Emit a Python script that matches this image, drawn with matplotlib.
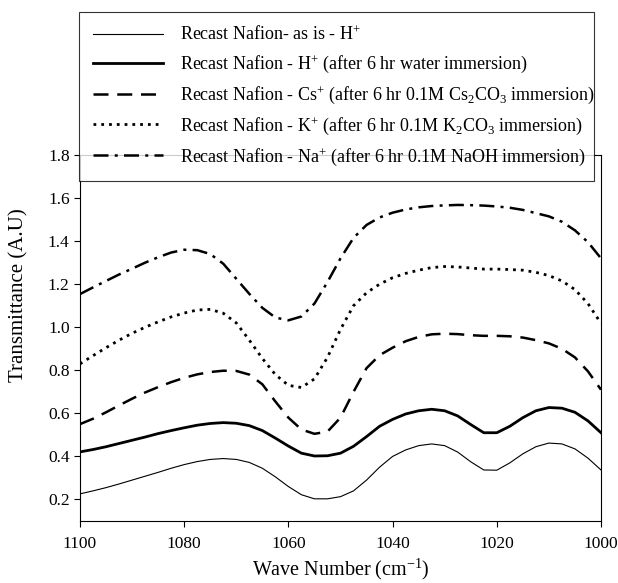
import matplotlib
matplotlib.use("Agg")
import matplotlib.pyplot as plt

plt.rcParams['font.family'] = ['Liberation Serif', 'DejaVu Serif']
plt.rcParams['mathtext.fontset'] = 'custom'
plt.rcParams['mathtext.rm'] = 'Liberation Serif'
plt.rcParams['mathtext.it'] = 'Liberation Serif:italic'
plt.rcParams['mathtext.bf'] = 'Liberation Serif:bold'

wavenumber = [1100, 1097.5, 1095, 1092.5, 1090, 1087.5, 1085, 1082.5, 1080, 1077.5,
              1075, 1072.5, 1070, 1067.5, 1065, 1062.5, 1060, 1057.5, 1055, 1052.5,
              1050, 1047.5, 1045, 1042.5, 1040, 1037.5, 1035, 1032.5, 1030, 1027.5,
              1025, 1022.5, 1020, 1017.5, 1015, 1012.5, 1010, 1007.5, 1005, 1002.5, 1000]

as_is = [0.226, 0.24, 0.255, 0.272, 0.29, 0.308, 0.326, 0.345, 0.362, 0.376,
         0.386, 0.39, 0.386, 0.372, 0.345, 0.305, 0.26, 0.222, 0.203, 0.203,
         0.213, 0.24, 0.29, 0.35, 0.40, 0.43, 0.45, 0.458, 0.45, 0.42,
         0.375, 0.337, 0.336, 0.37, 0.412, 0.445, 0.462, 0.458, 0.435, 0.392, 0.337]

h_water = [0.421, 0.432, 0.445, 0.46, 0.475, 0.49, 0.506, 0.52, 0.533, 0.545,
           0.553, 0.557, 0.554, 0.543, 0.52, 0.485, 0.448, 0.415, 0.402, 0.403,
           0.415, 0.447, 0.492, 0.54, 0.572, 0.597, 0.612, 0.619, 0.612, 0.588,
           0.548, 0.51, 0.51, 0.54, 0.58, 0.612, 0.627, 0.624, 0.605, 0.565, 0.51]

cs = [0.55, 0.575, 0.605, 0.637, 0.668, 0.697, 0.722, 0.745, 0.765, 0.781,
      0.792, 0.798, 0.797, 0.78, 0.735, 0.655, 0.58, 0.525, 0.505, 0.515,
      0.58, 0.7, 0.81, 0.87, 0.905, 0.935, 0.955, 0.967, 0.97, 0.968,
      0.963, 0.96, 0.96, 0.958, 0.952, 0.94, 0.925, 0.9, 0.86, 0.795, 0.71]

k = [0.83, 0.868, 0.905, 0.94, 0.972, 1.0, 1.025, 1.048, 1.066, 1.08,
     1.083, 1.065, 1.02, 0.94, 0.855, 0.78, 0.73, 0.72, 0.76, 0.86,
     0.99, 1.1, 1.16, 1.2, 1.23, 1.25, 1.265, 1.277, 1.282, 1.28,
     1.275, 1.27, 1.27, 1.268, 1.265, 1.255, 1.24, 1.215, 1.175, 1.11, 1.018]

na = [1.154, 1.185, 1.215, 1.245, 1.272, 1.3, 1.325, 1.347, 1.36, 1.358,
      1.34, 1.295, 1.225, 1.155, 1.09, 1.045, 1.032, 1.05, 1.11, 1.21,
      1.32, 1.415, 1.475, 1.51, 1.532, 1.547, 1.557, 1.563, 1.566, 1.568,
      1.567, 1.565, 1.561, 1.555, 1.545, 1.53, 1.515, 1.49, 1.45, 1.395, 1.32]

labels = [
    r"Recast Nafion- as is - H$^{+}$",
    r"Recast Nafion - H$^{+}$ (after 6 hr water immersion)",
    r"Recast Nafion - Cs$^{+}$ (after 6 hr 0.1M Cs$_{2}$CO$_{3}$ immersion)",
    r"Recast Nafion - K$^{+}$ (after 6 hr 0.1M K$_{2}$CO$_{3}$ immersion)",
    r"Recast Nafion - Na$^{+}$ (after 6 hr 0.1M NaOH immersion)",
]

W, H = 618, 583
fig = plt.figure(figsize=(W / 100, H / 100), dpi=100)
ax = fig.add_axes([80 / W, 1 - 521 / H, (601 - 80) / W, (521 - 155) / H])

l1, = ax.plot(wavenumber, as_is, color='black', lw=0.8, linestyle='-')
l2, = ax.plot(wavenumber, h_water, color='black', lw=2.0, linestyle='-')
l3, = ax.plot(wavenumber, cs, color='black', lw=1.8, linestyle=(0, (6, 3.5)))
l4, = ax.plot(wavenumber, k, color='black', lw=2.0, linestyle=(0, (1, 1.8)))
l5, = ax.plot(wavenumber, na, color='black', lw=1.8, linestyle=(0, (6, 2.5, 1.2, 2.5)))

ax.set_xlim(1100, 1000)
ax.set_ylim(0.1, 1.8)
ax.set_xticks([1100, 1080, 1060, 1040, 1020, 1000])
ax.set_yticks([0.2, 0.4, 0.6, 0.8, 1.0, 1.2, 1.4, 1.6, 1.8])
ax.set_yticklabels(["0.2", "0.4", "0.6", "0.8", "1.0", "1.2", "1.4", "1.6", "1.8"])
ax.tick_params(direction='out', length=4, width=0.8, labelsize=12.5, colors='black')
ax.tick_params(axis='x', pad=6.5)
for s in ax.spines.values():
    s.set_linewidth(0.8)

ax.set_xlabel(r"Wave Number (cm$^{\mathregular{-1}}$)", fontsize=14.5, labelpad=4)
ax.set_ylabel("Transmittance (A.U)", fontsize=15)
ax.yaxis.set_label_coords((28 - 80) / (601 - 80), (521 - 295) / (521 - 155))

leg = fig.legend([l1, l2, l3, l4, l5], labels,
                 loc='upper left',
                 bbox_to_anchor=(79 / W, 1 - 12 / H, (594 - 79) / W, 0.0),
                 mode='expand', frameon=True, fancybox=False, shadow=False,
                 fontsize=13, handlelength=3.9, handletextpad=0.95,
                 borderpad=0.75, labelspacing=0.5, borderaxespad=0.0)
leg.get_frame().set_edgecolor('black')
leg.get_frame().set_linewidth(0.8)
leg.set_zorder(10)

fig.savefig("out.png", dpi=100)
